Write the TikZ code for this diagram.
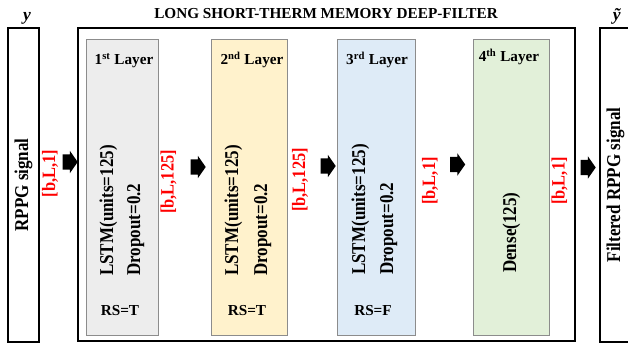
\documentclass[tikz,border=0pt]{standalone}
\usepackage{fontspec}
\setmainfont{Liberation Serif}
\newfontfamily\tallfont{Liberation Serif}[FakeStretch=0.87]
\usetikzlibrary{shapes.arrows}

\definecolor{firstfill}{HTML}{EDEDED}
\definecolor{secondfill}{HTML}{FFF2CC}
\definecolor{thirdfill}{HTML}{DEEBF7}
\definecolor{fourthfill}{HTML}{E2F0D9}
\definecolor{layerline}{HTML}{8C8C8C}

\begin{document}
\begin{tikzpicture}[x=0.3mm,y=0.3mm,
  frame/.style={draw,line width=2pt,inner sep=0pt},
  layer/.style={draw=layerline,line width=0.7pt,minimum height=88.8mm,inner sep=0pt},
  big/.style={font=\tallfont\fontsize{16.7}{18}\selectfont\bfseries},
  small/.style={font=\fontsize{13}{15}\selectfont\bfseries},
  dims/.style={font=\tallfont\fontsize{16.1}{18}\selectfont\bfseries,text=red},
  blockarrow/.style={single arrow,fill=black,inner xsep=0pt,inner ysep=2.25mm,
    minimum height=4.5mm,single arrow tip angle=110,single arrow head extend=1.05mm}]
\useasboundingbox (0,0) rectangle (628,343);
\clip (0,0) rectangle (628,343);

% input, filter frame and output
\node[frame,big,rotate=90,minimum width=94.2mm,minimum height=9.3mm] (inp) at (23.5,158) {RPPG signal};
\node[frame,minimum width=149.1mm,minimum height=93.9mm] (filter) at (326.5,158.5) {};
\node[frame,big,rotate=90,minimum width=94.2mm,minimum height=9.3mm] (out) at (615.5,158) {Filtered RPPG signal};
\node[small,anchor=base] (title) at (326,324) {LONG SHORT-THERM MEMORY DEEP-FILTER};
\node[small,font=\fontsize{15}{17}\selectfont\bfseries,anchor=base] (ylab) at (27,322) {\textit{y}};
\node[small,font=\fontsize{15}{17}\selectfont\bfseries,anchor=base] (ytlab) at (617,322) {\textit{ỹ}};

% layers
\node[layer,fill=firstfill,minimum width=21.6mm] (l1) at (122,156) {};
\node[layer,fill=secondfill,minimum width=22.8mm] (l2) at (249,156) {};
\node[layer,fill=thirdfill,minimum width=23.4mm] (l3) at (376,156) {};
\node[layer,fill=fourthfill,minimum width=22.8mm] (l4) at (511,156) {};

\node[small,anchor=base] (t1) at (124,278) {1\textsuperscript{st} Layer};
\node[small,anchor=base] (t2) at (252,278) {2\textsuperscript{nd} Layer};
\node[small,anchor=base] (t3) at (377,278) {3\textsuperscript{rd} Layer};
\node[small,anchor=base] (t4) at (509,281) {4\textsuperscript{th} Layer};

\node[big,rotate=90,anchor=base west] (u1) at (113,63) {LSTM(units=125)};
\node[big,rotate=90,anchor=base west] (d1) at (140,63) {Dropout=0.2};
\node[big,rotate=90,anchor=base west] (u2) at (238,63) {LSTM(units=125)};
\node[big,rotate=90,anchor=base west] (d2) at (267,63) {Dropout=0.2};
\node[big,rotate=90,anchor=base west] (u3) at (365,64) {LSTM(units=125)};
\node[big,rotate=90,anchor=base west] (d3) at (393,64) {Dropout=0.2};
\node[big,rotate=90,anchor=base west] (u4) at (516,66) {Dense(125)};

\node[small,anchor=base] (rs1) at (120,27) {RS=T};
\node[small,anchor=base] (rs2) at (247,27) {RS=T};
\node[small,anchor=base] (rs3) at (373,27) {RS=F};

% tensor shapes
\node[dims,rotate=90] (s0) at (50,169.5) {[b,L,1]};
\node[dims,rotate=90] (s1) at (168.5,161) {[b,L,125]};
\node[dims,rotate=90] (s2) at (300,163) {[b,L,125]};
\node[dims,rotate=90] (s3) at (430,162) {[b,L,1]};
\node[dims,rotate=90] (s4) at (559.5,162) {[b,L,1]};

% block arrows
\node[blockarrow] (a1) at (67.5,181) {};
\node[blockarrow] (a2) at (195.5,176) {};
\node[blockarrow] (a3) at (325.5,177) {};
\node[blockarrow] (a4) at (455,178.5) {};
\node[blockarrow] (a5) at (585.5,175.5) {};
\end{tikzpicture}
\end{document}
